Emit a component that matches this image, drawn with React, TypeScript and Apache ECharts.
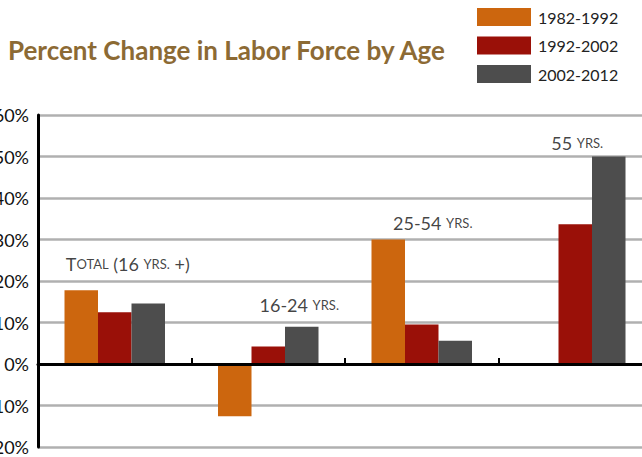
import React, { useEffect, useRef } from "react";
import * as echarts from "echarts";

const categories = ["Total", "16-24", "25-54", "55"];
const seriesNames = ["1982-1992", "1992-2002", "2002-2012"];
const values1982 = [17.8, -12.6, 30.0, null];
const values1992 = [12.5, 4.2, 9.5, 33.7];
const values2002 = [14.6, 9.0, 5.6, 50.0];
const yTicks = { min: -20, max: 60, interval: 10 };
const groupLabels = [
  "{b|T}{s|OTAL}{b| (16 }{s|YRS.}{b| +)}",
  "{b|16-24 }{s|YRS.}",
  "{b|25-54 }{s|YRS.}",
  "{b|55 }{s|YRS.}",
];

const colors = ["#CC660E", "#9A1008", "#4D4D4D"];
const labelNudge = [
  [13, -7],
  [31, -3],
  [11, 2],
  [2, 5],
];

export default function App() {
  const ref = useRef<HTMLDivElement>(null);
  useEffect(() => {
    document.body.style.margin = "0";
    if (!ref.current) return;
    const chart = echarts.init(ref.current, undefined, { renderer: "svg" });
    const all = [values1982, values1992, values2002];
    const maxima = categories.map((_, i) =>
      Math.max(...all.map((a) => (a[i] == null ? -Infinity : (a[i] as number))))
    );
    const font = "Lato, 'Open Sans', sans-serif";
    chart.setOption({
      animation: false,
      title: {
        text: "Percent Change in Labor Force by Age",
        left: 3,
        top: 32,
        textStyle: {
          color: "#8C6A34",
          fontFamily: font,
          fontWeight: "bold",
          fontSize: 26,
        },
      },
      legend: {
        data: seriesNames,
        orient: "vertical",
        left: 472,
        top: 3,
        itemWidth: 54,
        itemHeight: 18,
        itemGap: 10.5,
        icon: "rect",
        textStyle: { color: "#222", fontFamily: font, fontSize: 16, padding: [0, 0, 0, 2] },
      },
      grid: { left: 38, top: 115, width: 614, height: 332, outerBoundsMode: "none", containLabel: false },
      xAxis: {
        type: "category",
        data: categories,
        axisLine: { onZero: true, lineStyle: { color: "#000", width: 3 } },
        axisTick: { show: true, inside: true, length: 6, lineStyle: { color: "#000", width: 2 } },
        axisLabel: { show: false },
        splitLine: { show: false },
        z: 5,
      },
      yAxis: {
        type: "value",
        min: yTicks.min,
        max: yTicks.max,
        interval: yTicks.interval,
        axisLine: { show: true, lineStyle: { color: "#000", width: 3 } },
        axisTick: { show: false },
        axisLabel: {
          formatter: "{value}%",
          color: "#111",
          fontFamily: font,
          fontSize: 18,
          margin: 9,
        },
        splitLine: { lineStyle: { color: "#B0B0B0", width: 2.5 } },
      },
      series: [
        ...[values1982, values1992, values2002].map((vals, k) => ({
          name: seriesNames[k],
          type: "bar",
          data: vals,
          barWidth: 33.5,
          barGap: "0%",
          itemStyle: { color: colors[k] },
          z: 3,
        })),
        {
          name: "labels",
          type: "scatter",
          symbolSize: 0,
          data: maxima.map((m, i) => ({
            value: m,
            label: { offset: labelNudge[i] },
          })),
          silent: true,
          label: {
            show: true,
            position: "top",
            distance: 10,
            formatter: (p: any) => groupLabels[p.dataIndex],
            color: "#111",
            rich: {
              b: { fontFamily: font, fontSize: 18, color: "#111" },
              s: { fontFamily: font, fontSize: 13, color: "#111" },
            },
          },
          z: 6,
        },
      ],
    });
    return () => chart.dispose();
  }, []);
  return <div ref={ref} style={{ width: 642, height: 457 }} />;
}
